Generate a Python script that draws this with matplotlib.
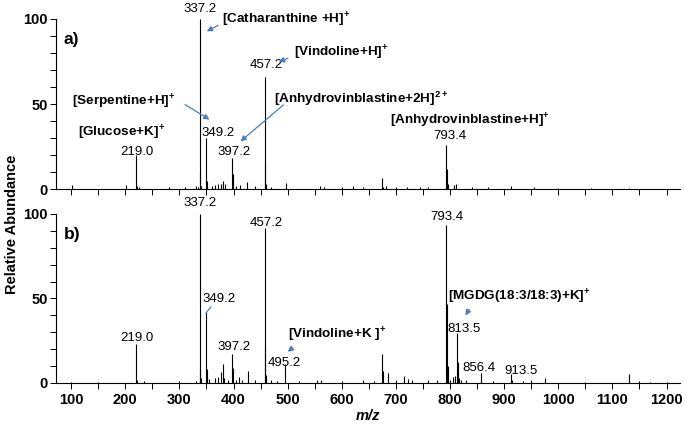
import matplotlib
matplotlib.use("Agg")
import matplotlib.pyplot as plt
from matplotlib.ticker import MultipleLocator

plt.rcParams['font.family'] = ['Liberation Sans', 'DejaVu Sans']
plt.rcParams['mathtext.fontset'] = 'custom'
plt.rcParams['mathtext.rm'] = 'Liberation Sans'
plt.rcParams['mathtext.bf'] = 'Liberation Sans:bold'

# spectrum a) - m/z and relative abundance
mz_a = [102, 202, 219.0, 221, 225, 280, 310, 330, 335,
        337.2, 338.2, 339.2, 349.2, 350.2, 351.2, 360, 365, 371, 377, 381, 385,
        397.2, 398.2, 399.2, 405, 412, 425, 440, 457.2, 458.2, 459.2, 470, 496,
        560, 567, 600, 621, 639, 674.5, 677, 681, 700, 720, 745, 760,
        793.4, 794.4, 795.4, 808, 811.7, 840, 870, 912.6, 955, 1000, 1060, 1130]
int_a = [2.3, 2.5, 20, 1.5, 1, 1, 1, 1.5, 1,
         100, 9, 2, 30, 5, 2, 2, 2.5, 3, 3, 5, 3,
         18, 9, 4, 2, 2.5, 4, 1.5, 66, 16, 3, 1, 3.3,
         1.5, 1, 1.2, 1.5, 1, 6.5, 1.4, 2, 1.2, 1, 1, 1.2,
         26, 12, 3, 2.4, 3, 1, 1, 1.5, 1, 0.8, 0.6, 0.8]

# spectrum b)
mz_b = [100, 150, 219.0, 222, 235, 300, 330,
        337.2, 338.2, 339.2, 349.2, 350.2, 351.2, 355, 365, 372, 376, 380, 383, 390,
        397.2, 398.2, 405, 410, 415, 426, 440, 457.2, 458.2, 459.2, 470, 480,
        495.2, 520, 555, 562, 600, 640, 660, 675, 676, 686, 700, 714, 722, 730,
        760, 775, 793.4, 794.4, 795.4, 800, 805, 809, 813.5, 815, 816, 820, 830,
        856.4, 858, 880, 913.5, 915, 935, 950, 975, 1050, 1130, 1131, 1150, 1170, 1200]
int_b = [0.8, 0.5, 23, 2, 1, 1, 1.2,
         100, 8, 3, 42, 8, 3, 2.5, 3, 3.5, 6.5, 11, 3, 2,
         17, 9, 2, 3.5, 2, 7, 2, 92, 22, 5, 1.5, 1,
         11, 1, 1.5, 2, 1, 1.5, 1, 17, 7, 6, 2, 4, 2.5, 1.5,
         1.5, 2, 93.5, 47, 10, 2, 3.5, 4, 29.6, 12.6, 3, 2, 1.5,
         6, 2, 1, 5.3, 2, 1, 1.5, 3, 0.8, 5.3, 2, 1, 0.8, 0.5]

xticks = [100, 200, 300, 400, 500, 600, 700, 800, 900, 1000, 1100, 1200]
arrow_blue = '#4a7ebb'
num_fs = 9.5
name_fs = 9.7

fig = plt.figure(figsize=(6.85, 4.24), dpi=100)
ax_a = fig.add_axes([0.0818, 0.5542, 0.911, 0.401])
ax_b = fig.add_axes([0.0818, 0.0967, 0.911, 0.3986])

for ax, mz, inten in [(ax_a, mz_a, int_a), (ax_b, mz_b, int_b)]:
    ax.vlines(mz, 0, inten, color='black', linewidth=0.8)
    ax.set_xlim(72, 1225)
    ax.set_ylim(0, 100)
    ax.spines['top'].set_visible(False)
    ax.spines['right'].set_visible(False)
    ax.spines['left'].set_linewidth(0.8)
    ax.spines['bottom'].set_linewidth(0.8)
    ax.xaxis.set_major_locator(MultipleLocator(100))
    ax.xaxis.set_minor_locator(MultipleLocator(50))
    ax.yaxis.set_major_locator(MultipleLocator(50))
    ax.yaxis.set_minor_locator(MultipleLocator(10))
    ax.tick_params(which='both', direction='out', length=4, width=0.7)
    ax.tick_params(axis='y', labelsize=10.5, pad=2)
    ax.tick_params(axis='x', labelsize=10.5, pad=3)
    for lab in ax.get_yticklabels():
        lab.set_fontweight('bold')

ax_a.set_xticks(xticks)
ax_a.tick_params(axis='x', labelbottom=False)
ax_b.set_xticks(xticks)
for lab in ax_b.get_xticklabels():
    lab.set_fontweight('bold')

ax_b.set_xlabel('m/z', fontsize=10.5, fontweight='bold', fontstyle='italic', labelpad=2)
fig.text(0.018, 0.47, 'Relative Abundance', rotation=90, fontsize=10.5,
         fontweight='bold', ha='center', va='center')

# panel a annotations
ax_a.text(0.012, 0.88, 'a)', transform=ax_a.transAxes, fontsize=12.5, fontweight='bold', va='center')
ax_a.text(337.2, 106, '337.2', fontsize=num_fs, ha='center', va='center', clip_on=False)
ax_a.text(460, 73, '457.2', fontsize=num_fs, ha='center', va='center')
ax_a.text(371, 33, '349.2', fontsize=num_fs, ha='center', va='center')
ax_a.text(400, 22, '397.2', fontsize=num_fs, ha='center', va='center')
ax_a.text(222, 22, '219.0', fontsize=num_fs, ha='center', va='center')
ax_a.text(799, 31, '793.4', fontsize=num_fs, ha='center', va='center')

ax_a.text(379, 99.4, r'[Catharanthine +H]$^{\mathbf{+}}$', fontsize=name_fs, fontweight='bold', va='center', clip_on=False)
ax_a.text(511, 80, r'[Vindoline+H]$^{\mathbf{+}}$', fontsize=name_fs, fontweight='bold', va='center')
ax_a.text(101, 51, r'[Serpentine+H]$^{\mathbf{+}}$', fontsize=name_fs, fontweight='bold', va='center')
ax_a.text(474, 53, r'[Anhydrovinblastine+2H]$^{\mathbf{2+}}$', fontsize=name_fs, fontweight='bold', va='center')
ax_a.text(112, 33, r'[Glucose+K]$^{\mathbf{+}}$', fontsize=name_fs, fontweight='bold', va='center')
ax_a.text(689, 40, r'[Anhydrovinblastine+H]$^{\mathbf{+}}$', fontsize=name_fs, fontweight='bold', va='center')

arrow_kw = dict(arrowstyle='-|>', color=arrow_blue, lw=0.9, mutation_scale=8)
ax_a.annotate('', xy=(346, 92), xytext=(376, 97), arrowprops=arrow_kw)
ax_a.annotate('', xy=(479, 74), xytext=(505, 77.6), arrowprops=arrow_kw)
ax_a.annotate('', xy=(360, 40), xytext=(306, 50.5), arrowprops=arrow_kw)
ax_a.annotate('', xy=(409, 27), xytext=(496, 50.5), arrowprops=arrow_kw)

# panel b annotations
ax_b.text(0.012, 0.88, 'b)', transform=ax_b.transAxes, fontsize=12.5, fontweight='bold', va='center')
ax_b.text(337.2, 106.5, '337.2', fontsize=num_fs, ha='center', va='center', clip_on=False)
ax_b.text(460, 94.7, '457.2', fontsize=num_fs, ha='center', va='center')
ax_b.text(374, 49.7, '349.2', fontsize=num_fs, ha='center', va='center')
ax_b.text(221, 26.6, '219.0', fontsize=num_fs, ha='center', va='center')
ax_b.text(400, 21.3, '397.2', fontsize=num_fs, ha='center', va='center')
ax_b.text(494, 11.8, '495.2', fontsize=num_fs, ha='center', va='center')
ax_b.text(793.4, 98.2, '793.4', fontsize=num_fs, ha='center', va='center')
ax_b.text(826, 32, '813.5', fontsize=num_fs, ha='center', va='center')
ax_b.text(854, 8.9, '856.4', fontsize=num_fs, ha='center', va='center')
ax_b.text(931, 7.1, '913.5', fontsize=num_fs, ha='center', va='center')
ax_b.plot([358, 349.2], [45, 41.5], color=arrow_blue, lw=0.8)

ax_b.text(500, 28.5, r'[Vindoline+K ]$^{\mathbf{+}}$', fontsize=name_fs, fontweight='bold', va='center')
ax_b.text(797, 51, r'[MGDG(18:3/18:3)+K]$^{\mathbf{+}}$', fontsize=name_fs, fontweight='bold', va='center')
ax_b.annotate('', xy=(496, 17.5), xytext=(512, 21.5), arrowprops=arrow_kw)
ax_b.annotate('', xy=(826, 38.5), xytext=(838, 45), arrowprops=arrow_kw)

fig.savefig('out.png', dpi=100)
